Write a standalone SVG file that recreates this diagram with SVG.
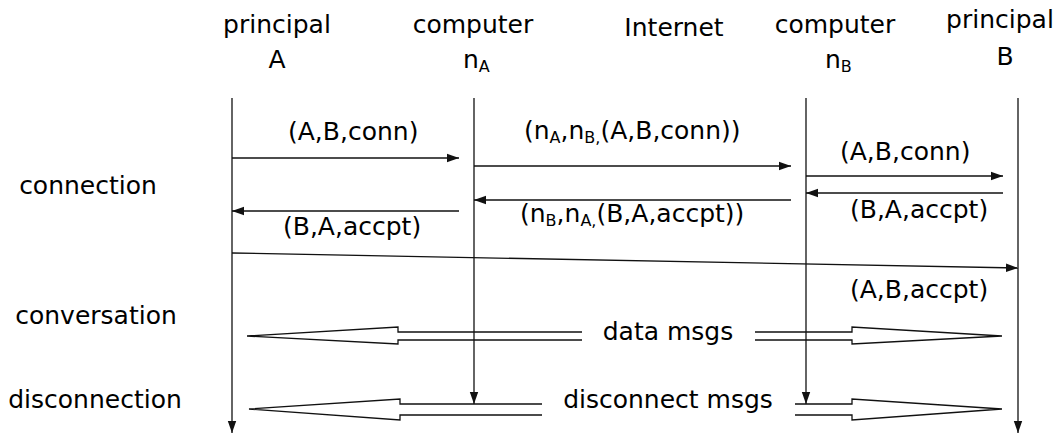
<svg xmlns="http://www.w3.org/2000/svg" width="1060" height="435" viewBox="0 0 1060 435">
<style>
text{font-family:"DejaVu Sans","Liberation Sans",sans-serif;font-size:25px;fill:#000}
.sub{font-size:16px}
.ln{stroke:#111;stroke-width:1.3;fill:none}
.msg{stroke:#111;stroke-width:1.3;fill:none;marker-end:url(#ah)}
.dbl{stroke:#111;stroke-width:1.3;fill:none;stroke-linejoin:miter}
</style>
<defs>
<marker id="ah" markerUnits="userSpaceOnUse" markerWidth="13" markerHeight="10" refX="12" refY="5" orient="auto">
<path d="M0,0.8 L12,5 L0,9.2 Z" fill="#111"/>
</marker>
</defs>
<rect width="1060" height="435" fill="#fff"/>
<g id="phase-labels">
<text x="88" y="194" text-anchor="middle">connection</text>
<text x="96" y="324" text-anchor="middle">conversation</text>
<text x="95" y="408" text-anchor="middle">disconnection</text>
</g>
<g id="principal-A">
<text x="277" y="33" text-anchor="middle">principal</text>
<text x="277" y="68" text-anchor="middle">A</text>
<line class="msg" x1="232" y1="98" x2="232" y2="433"/>
</g>
<g id="computer-nA">
<text x="473" y="33" text-anchor="middle">computer</text>
<text x="463" y="68">n<tspan class="sub" dy="4">A</tspan></text>
<line class="msg" x1="474" y1="98" x2="474" y2="404"/>
</g>
<g id="internet">
<text x="674" y="36" text-anchor="middle">Internet</text>
</g>
<g id="computer-nB">
<text x="835" y="33" text-anchor="middle">computer</text>
<text x="825" y="68">n<tspan class="sub" dy="4">B</tspan></text>
<line class="msg" x1="806" y1="98" x2="806" y2="404"/>
</g>
<g id="principal-B">
<text x="1000" y="28" text-anchor="middle">principal</text>
<text x="1005" y="65" text-anchor="middle">B</text>
<line class="msg" x1="1018" y1="98" x2="1018" y2="433"/>
</g>
<g id="connectors">
<line class="msg" x1="232" y1="158" x2="459" y2="158"/>
<text x="288" y="140">(A,B,conn)</text>
<line class="msg" x1="474" y1="166" x2="791" y2="166"/>
<text x="524" y="139">(n<tspan class="sub" dy="4">A</tspan><tspan dy="-4">,n</tspan><tspan class="sub" dy="4">B,</tspan><tspan dy="-4">(A,B,conn))</tspan></text>
<line class="msg" x1="806" y1="176" x2="1003" y2="176"/>
<text x="840" y="160">(A,B,conn)</text>
<line class="msg" x1="1003" y1="193" x2="806" y2="193"/>
<text x="850" y="218">(B,A,accpt)</text>
<line class="msg" x1="791" y1="200" x2="474" y2="200"/>
<text x="520" y="222">(n<tspan class="sub" dy="4">B</tspan><tspan dy="-4">,n</tspan><tspan class="sub" dy="4">A,</tspan><tspan dy="-4">(B,A,accpt))</tspan></text>
<line class="msg" x1="459" y1="211" x2="232" y2="211"/>
<text x="283" y="235">(B,A,accpt)</text>
<line class="msg" x1="232" y1="253" x2="1018" y2="268"/>
<text x="850" y="298">(A,B,accpt)</text>
<path class="dbl" d="M582,332 L398,332 L398,327 L247,336 L398,344 L398,340 L582,340"/>
<path class="dbl" d="M755,332 L852,332 L852,327 L1002,336 L852,344 L852,340 L755,340"/>
<text x="668" y="340" text-anchor="middle">data msgs</text>
<path class="dbl" d="M542,404 L400,404 L400,399 L249,409 L400,420 L400,415 L542,415"/>
<path class="dbl" d="M795,404 L852,404 L852,399 L1002,409 L852,420 L852,415 L795,415"/>
<text x="668" y="408" text-anchor="middle">disconnect msgs</text>
</g>
</svg>
